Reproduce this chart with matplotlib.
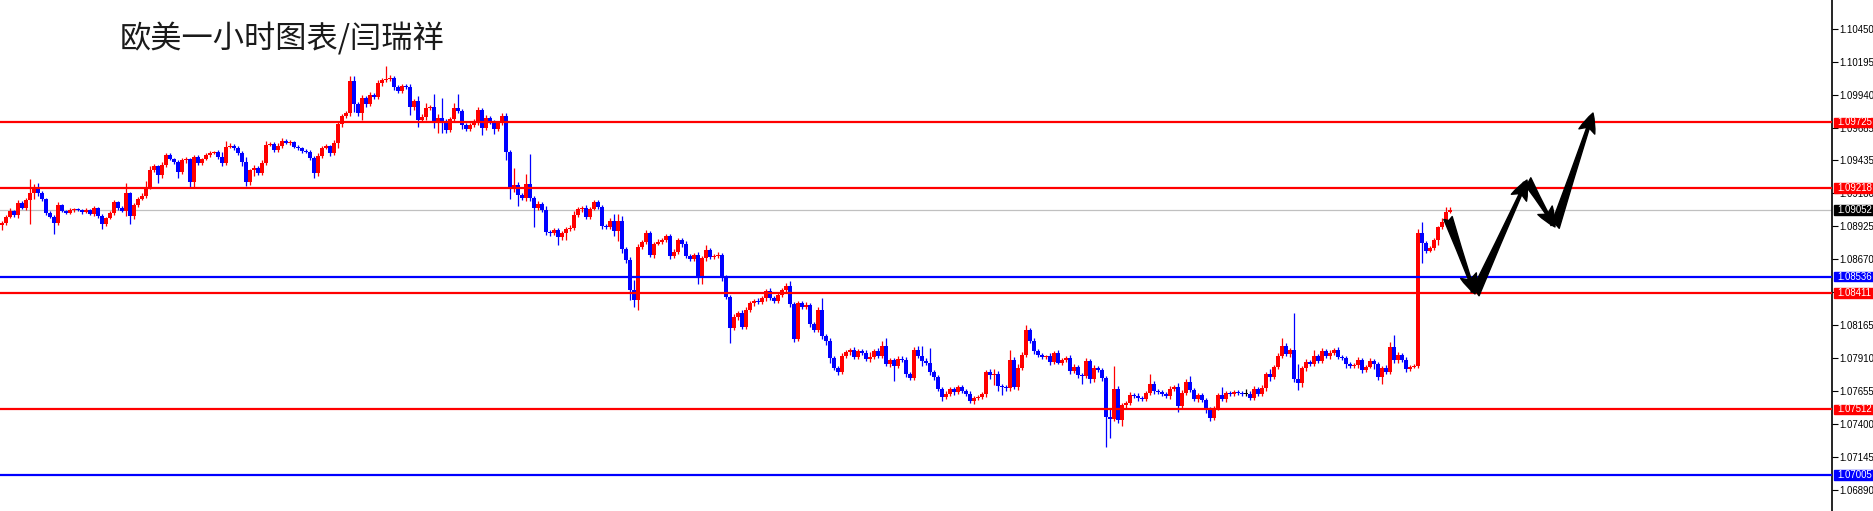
import matplotlib
matplotlib.use("Agg")
import matplotlib.pyplot as plt
import matplotlib.transforms as mtrans
from matplotlib.patches import Rectangle, FancyArrowPatch
import numpy as np

plt.rcParams['font.family'] = ['Noto Sans CJK SC', 'DejaVu Sans']

title = "欧美一小时图表/闫瑞祥"

# EURUSD H1 closes, points above 1.00000 (1 point = 0.00001)
close_pts = [
    8950, 8996, 9042, 9011, 9104, 9065, 9127, 9181, 9220, 9181, 9135, 9027, 8996, 8950, 9088, 9042, 9027, 9050, 9058, 9050,
    9034, 9050, 9019, 9065, 9004, 8942, 8988, 9027, 9112, 9065, 9042, 9181, 9004, 9088, 9135, 9158, 9220, 9358, 9389, 9320,
    9397, 9474, 9443, 9420, 9343, 9436, 9443, 9266, 9459, 9412, 9443, 9474, 9490, 9497, 9459, 9412, 9536, 9544, 9528, 9490,
    9420, 9266, 9358, 9374, 9335, 9412, 9551, 9559, 9513, 9544, 9582, 9567, 9574, 9536, 9528, 9505, 9497, 9451, 9335, 9466,
    9528, 9544, 9490, 9567, 9713, 9775, 9798, 10045, 9868, 9798, 9914, 9868, 9937, 9922, 10030, 10053, 10061, 10068, 9999, 9968,
    10007, 9999, 9845, 9891, 9744, 9767, 9837, 9845, 9721, 9760, 9729, 9667, 9752, 9837, 9814, 9706, 9675, 9706, 9729, 9821,
    9683, 9760, 9729, 9675, 9721, 9775, 9497, 9227, 9243, 9166, 9142, 9250, 9142, 9065, 9096, 9050, 8880, 8872, 8896, 8842,
    8872, 8903, 8911, 9011, 9058, 9065, 8996, 9058, 9112, 9073, 8926, 8919, 8965, 8888, 8965, 8749, 8664, 8433, 8356, 8764,
    8803, 8872, 8703, 8788, 8803, 8818, 8849, 8695, 8726, 8818, 8788, 8695, 8672, 8703, 8525, 8680, 8741, 8687, 8695, 8703,
    8525, 8379, 8140, 8224, 8255, 8147, 8278, 8332, 8348, 8340, 8371, 8425, 8371, 8348, 8394, 8433, 8463, 8325, 8055, 8332,
    8301, 8317, 8170, 8124, 8278, 8078, 8039, 7908, 7831, 7800, 7923, 7954, 7970, 7916, 7962, 7947, 7900, 7916, 7962, 7923,
    8001, 7862, 7893, 7846, 7900, 7893, 7785, 7754, 7970, 7923, 7885, 7870, 7800, 7761, 7669, 7607, 7630, 7669, 7646, 7684,
    7653, 7630, 7576, 7599, 7607, 7630, 7800, 7777, 7785, 7692, 7684, 7677, 7893, 7684, 7831, 7931, 8124, 8039, 7962, 7931,
    7916, 7923, 7877, 7947, 7870, 7893, 7908, 7808, 7839, 7777, 7769, 7885, 7746, 7831, 7815, 7754, 7453, 7437, 7669, 7430,
    7545, 7561, 7623, 7615, 7599, 7592, 7638, 7707, 7653, 7646, 7630, 7615, 7669, 7684, 7538, 7638, 7723, 7661, 7592, 7623,
    7584, 7507, 7445, 7522, 7623, 7592, 7638, 7630, 7646, 7638, 7630, 7630, 7599, 7669, 7630, 7677, 7785, 7761, 7839, 7923,
    8001, 7939, 7970, 7746, 7715, 7831, 7877, 7862, 7923, 7885, 7962, 7923, 7947, 7970, 7916, 7908, 7862, 7846, 7854, 7893,
    7815, 7839, 7885, 7862, 7761, 7831, 7800, 7993, 7893, 7931, 7893, 7823, 7839, 7846, 8872, 8795, 8734, 8757, 8818, 8919,
    8957, 9034, 9052,
]
first_open = 8934

# wick lengths beyond the body, points
upper_wick = [
    15, 12, 20, 10, 25, 12, 18, 108, 30, 35, 14, 10, 12, 15, 20, 8, 10, 12, 8, 10,
    10, 12, 8, 15, 10, 12, 10, 14, 18, 10, 12, 77, 10, 15, 12, 20, 54, 31, 15, 10,
    20, 15, 12, 10, 15, 18, 12, 10, 15, 12, 10, 15, 12, 10, 12, 38, 46, 20, 15, 12,
    15, 38, 12, 20, 15, 25, 31, 15, 12, 20, 23, 12, 15, 10, 12, 10, 12, 15, 12, 20,
    15, 12, 10, 25, 20, 15, 18, 38, 38, 15, 20, 15, 25, 15, 20, 15, 100, 20, 15, 12,
    15, 12, 20, 15, 38, 20, 38, 15, 100, 31, 154, 20, 15, 38, 108, 15, 12, 15, 20, 25,
    15, 20, 15, 12, 15, 20, 23, 15, 131, 20, 15, 77, 231, 15, 20, 12, 31, 15, 12, 15,
    15, 12, 20, 31, 15, 12, 20, 15, 12, 15, 12, 15, 20, 54, 54, 38, 15, 20, 77, 20,
    15, 20, 12, 15, 20, 12, 15, 15, 20, 15, 12, 20, 15, 12, 20, 15, 38, 15, 12, 20,
    15, 20, 15, 23, 15, 20, 23, 15, 12, 20, 15, 12, 20, 15, 12, 15, 20, 38, 15, 15,
    12, 20, 15, 12, 20, 92, 15, 20, 12, 15, 20, 12, 15, 20, 12, 15, 20, 38, 15, 20,
    38, 62, 15, 12, 20, 25, 20, 15, 23, 31, 77, 20, 115, 15, 12, 15, 20, 15, 12, 15,
    12, 15, 20, 15, 12, 15, 15, 20, 38, 20, 15, 12, 77, 25, 31, 20, 38, 15, 20, 12,
    15, 12, 20, 15, 25, 15, 12, 20, 23, 15, 12, 25, 15, 20, 12, 15, 15, 62, 177, 23,
    15, 12, 20, 15, 20, 12, 15, 77, 20, 15, 12, 15, 20, 12, 31, 23, 20, 46, 15, 12,
    12, 15, 20, 15, 12, 62, 15, 12, 15, 12, 15, 38, 20, 20, 15, 20, 15, 38, 15, 25,
    62, 20, 15, 285, 115, 15, 20, 15, 46, 15, 25, 15, 20, 15, 23, 15, 12, 15, 12, 20,
    15, 12, 20, 15, 12, 15, 20, 38, 92, 20, 15, 20, 12, 15, 31, 85, 15, 12, 15, 8,
    31, 38, 23,
]
lower_wick = [
    40, 15, 10, 12, 20, 10, 15, 185, 46, 20, 12, 15, 10, 85, 15, 10, 8, 10, 12, 10,
    12, 8, 10, 12, 15, 38, 12, 10, 15, 12, 10, 38, 62, 20, 12, 10, 15, 12, 14, 62,
    25, 12, 10, 15, 46, 12, 20, 46, 38, 15, 12, 10, 12, 10, 15, 20, 12, 10, 12, 15,
    31, 31, 20, 46, 15, 12, 15, 10, 12, 15, 12, 10, 12, 10, 15, 12, 10, 15, 38, 20,
    12, 10, 23, 15, 38, 20, 15, 23, 62, 20, 54, 20, 15, 12, 15, 20, 12, 15, 20, 15,
    12, 15, 62, 20, 54, 15, 20, 15, 38, 77, 85, 20, 15, 15, 12, 31, 15, 12, 15, 20,
    54, 15, 12, 38, 15, 15, 62, 92, 38, 85, 15, 20, 20, 146, 15, 12, 23, 20, 15, 62,
    20, 54, 15, 12, 15, 20, 12, 15, 12, 15, 20, 12, 15, 38, 77, 31, 20, 77, 54, 77,
    12, 15, 15, 20, 12, 15, 12, 20, 15, 12, 20, 15, 12, 15, 46, 46, 20, 12, 15, 12,
    23, 15, 115, 15, 20, 15, 12, 15, 20, 12, 15, 20, 12, 15, 12, 15, 12, 20, 23, 15,
    15, 12, 20, 15, 12, 23, 31, 38, 15, 23, 15, 12, 20, 15, 12, 15, 12, 20, 15, 12,
    12, 15, 20, 115, 15, 12, 20, 15, 15, 12, 38, 15, 23, 20, 12, 31, 15, 12, 20, 15,
    15, 12, 15, 20, 12, 15, 23, 31, 77, 38, 62, 23, 23, 15, 20, 15, 12, 15, 20, 12,
    12, 15, 20, 15, 12, 15, 12, 20, 15, 23, 62, 15, 31, 23, 15, 20, 231, 146, 15, 23,
    46, 20, 15, 12, 20, 15, 12, 15, 23, 15, 12, 15, 20, 12, 46, 15, 12, 15, 12, 20,
    15, 20, 23, 15, 12, 15, 20, 15, 12, 15, 12, 15, 15, 12, 15, 12, 20, 31, 12, 15,
    15, 12, 20, 23, 54, 31, 20, 15, 12, 15, 12, 15, 20, 12, 15, 12, 31, 15, 12, 20,
    23, 15, 12, 38, 20, 54, 15, 15, 23, 20, 15, 20, 15, 12, 15, 154, 15, 8, 15, 38,
    12, 15, 10,
]

# horizontal levels drawn on the chart
levels = [1.09725, 1.09218, 1.08536, 1.08411, 1.07512, 1.07005]
level_colors = ["#ff0000", "#ff0000", "#0000ff", "#ff0000", "#ff0000", "#0000ff"]
last_price = 1.09052

tick_vals = [1.10450, 1.10195, 1.09940, 1.09685, 1.09435, 1.09180, 1.08925,
             1.08670, 1.08415, 1.08165, 1.07910, 1.07655, 1.07400, 1.07145, 1.06890]

# projected path drawn with arrows (bar index, price)
path_bar = [361.5, 368.25, 381.25, 388.25, 397.75]
path_price = [1.08988, 1.08402, 1.09281, 1.08919, 1.09798]

c = 1 + np.array(close_pts) / 1e5
o = np.r_[1 + first_open / 1e5, c[:-1]]
h = np.maximum(o, c) + np.array(upper_wick) / 1e5
l = np.minimum(o, c) - np.array(lower_wick) / 1e5
x = np.arange(len(c))
col = np.where(c > o, "#ff0000", np.where(c < o, "#0000ff", "#000000"))

W, H = 1874, 511
fig = plt.figure(figsize=(W / 100, H / 100), dpi=100)
ax = fig.add_axes([0, 0, 1832 / W, 1])

ax.axhline(last_price, color="#c0c0c0", lw=0.9, zorder=0.5)
ax.vlines(x, l, h, colors=col, linewidth=0.9, zorder=2)
ax.bar(x, np.maximum(np.abs(c - o), 0.00009), bottom=np.minimum(o, c),
       width=0.8, color=col, linewidth=0, zorder=2)

for lv, lc in zip(levels, level_colors):
    ax.axhline(lv, color=lc, lw=1.6, zorder=3)

for k in range(len(path_bar) - 1):
    ax.add_patch(FancyArrowPatch((path_bar[k], path_price[k]),
                                 (path_bar[k + 1], path_price[k + 1]),
                                 arrowstyle="fancy,head_length=0.7,head_width=0.6,tail_width=0.32",
                                 mutation_scale=20, color="black",
                                 shrinkA=0, shrinkB=0, zorder=5))

ax.set_xlim(-0.5, 457.5)
ax.set_ylim(1.067276, 1.10670)

ax.yaxis.tick_right()
ax.set_yticks(tick_vals)
ax.set_yticklabels([f"{t:.5f}" for t in tick_vals])
ax.tick_params(axis="y", direction="out", length=4, width=0.8, pad=1.5,
               labelsize=6.9, colors="black")
for lab in ax.get_yticklabels():
    lab.set_family("Liberation Sans")
ax.set_xticks([])
for s in ["top", "left", "bottom"]:
    ax.spines[s].set_visible(False)
ax.spines["right"].set_linewidth(1.2)

# price tags on the right scale
trans = mtrans.blended_transform_factory(fig.transFigure, ax.transData)
tags = list(zip(levels, level_colors)) + [(last_price, "#000000")]
for v, tc in tags:
    fig.add_artist(Rectangle((1834 / W, v - 0.00037), 40 / W, 0.00074,
                             transform=trans, color=tc, zorder=6))
    fig.text(1837 / W, v, f"{v:.5f}", transform=trans, color="white",
             va="center", ha="left", fontsize=6.9, family="Liberation Sans", zorder=7)

fig.text(120 / W, 1 - 38.5 / H, title, fontsize=22.5, va="center", ha="left", color="#1a1a1a")

fig.savefig("out.png", dpi=100)
